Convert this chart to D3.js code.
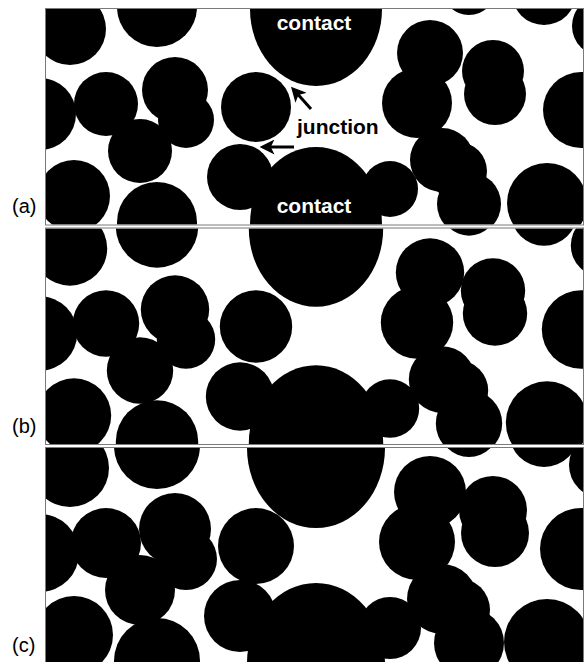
<!DOCTYPE html>
<html>
<head>
<meta charset="utf-8">
<script src="https://cdn.jsdelivr.net/npm/d3@7"></script>
<style>
  html, body { margin: 0; padding: 0; background: #fff; }
  svg { display: block; }
</style>
</head>
<body>
<svg id="chart" width="586" height="662"></svg>
<script>
// Simulation cell size (cell units = pixels at this scale)
const cellWidth = 537;
const cellHeight = 215;

// Particle centres and radii in cell units
const particleX = [24, 111, 111, -6, 60, 129, 140, 94, 28, 210, 194, 384, 371, 447, 449, 396, 412, 423, 423, 344, 501, 498, 535, 556];
const particleY = [20, -2, 213, 105, 95, 81, 111, 142, 187, 98, 168, 44, 94, 62, 85, 151, 162, 195, -21, 180, 194, -16, 101, 17];
const particleR = [36, 40, 40, 36, 32, 33, 28, 32, 36, 35, 33, 33, 35, 31, 31, 32, 29, 32, 27, 28, 40, 32, 38, 30];

// Electrode contact (an ellipse cut by the top edge, repeated at the bottom edge)
const contactX = [270, 270];
const contactY = [0, 215];
const contactRX = 66;
const contactRY = 77;

// Sintering stages: panel label and radius growth (cell units)
const stageLabels = ["(a)", "(b)", "(c)"];
const stageGrowth = [0, 1.2, 3];

const svg = d3.select("#chart");
const panelLeft = 46;
const panelTop0 = 9;
const panelStep = 219.5;
const panelH = 215.5;

const x = d3.scaleLinear().domain([0, cellWidth]).range([panelLeft, panelLeft + cellWidth]);
const k = x(1) - x(0);

stageLabels.forEach((label, i) => {
  const top = panelTop0 + i * panelStep;
  const y = d3.scaleLinear().domain([0, cellHeight]).range([top, top + cellHeight]);
  const grow = stageGrowth[i];

  svg.append("clipPath").attr("id", "clip" + i)
    .append("rect")
    .attr("x", x(0)).attr("y", top)
    .attr("width", x(cellWidth) - x(0)).attr("height", panelH);

  const g = svg.append("g").attr("clip-path", `url(#clip${i})`);

  g.append("rect")
    .attr("x", x(0)).attr("y", top)
    .attr("width", x(cellWidth) - x(0)).attr("height", panelH)
    .attr("fill", "#fff");

  g.selectAll("ellipse.contact")
    .data(d3.range(contactX.length))
    .join("ellipse")
    .attr("class", "contact")
    .attr("cx", j => x(contactX[j]))
    .attr("cy", j => y(contactY[j]))
    .attr("rx", (contactRX + grow) * k)
    .attr("ry", (contactRY + grow) * k)
    .attr("fill", "#000");

  g.selectAll("circle.particle")
    .data(d3.range(particleX.length))
    .join("circle")
    .attr("class", "particle")
    .attr("cx", j => x(particleX[j]))
    .attr("cy", j => y(particleY[j]))
    .attr("r", j => (particleR[j] + grow) * k)
    .attr("fill", "#000");

  // panel frame
  svg.append("rect")
    .attr("x", x(0) - 0.5).attr("y", top - 0.5)
    .attr("width", x(cellWidth) - x(0) + 1).attr("height", panelH + 1)
    .attr("fill", "none")
    .attr("stroke", "#7a7a7a")
    .attr("stroke-width", 1);

  svg.append("text")
    .attr("x", 12)
    .attr("y", top + 204)
    .attr("font-family", "Liberation Sans, Arial, sans-serif")
    .attr("font-size", 20)
    .attr("fill", "#000")
    .text(label);
});

// Annotations on the first stage
const ann = svg.append("g");
const labelFont = "Liberation Sans, Arial, sans-serif";

ann.selectAll("text.contact-label")
  .data([30, 213])
  .join("text")
  .attr("class", "contact-label")
  .attr("x", 314)
  .attr("y", d => d)
  .attr("text-anchor", "middle")
  .attr("font-family", labelFont)
  .attr("font-weight", "bold")
  .attr("font-size", 21)
  .attr("fill", "#fff")
  .text("contact");

ann.append("text")
  .attr("x", 297)
  .attr("y", 134)
  .attr("font-family", labelFont)
  .attr("font-weight", "bold")
  .attr("font-size", 21)
  .attr("fill", "#000")
  .text("junction");

const defs = svg.append("defs");
defs.append("marker")
  .attr("id", "head")
  .attr("viewBox", "0 0 10 10")
  .attr("refX", 7).attr("refY", 5)
  .attr("markerWidth", 5).attr("markerHeight", 5)
  .attr("orient", "auto")
  .append("path")
  .attr("d", "M0,0 L10,5 L0,10 L2.5,5 Z")
  .attr("fill", "#000");

const arrows = [
  { x1: 311, y1: 109, x2: 294, y2: 90 },
  { x1: 294, y1: 147, x2: 264, y2: 147 }
];
ann.selectAll("line.arrow")
  .data(arrows)
  .join("line")
  .attr("class", "arrow")
  .attr("x1", d => d.x1).attr("y1", d => d.y1)
  .attr("x2", d => d.x2).attr("y2", d => d.y2)
  .attr("stroke", "#000")
  .attr("stroke-width", 3)
  .attr("marker-end", "url(#head)");
</script>
</body>
</html>
